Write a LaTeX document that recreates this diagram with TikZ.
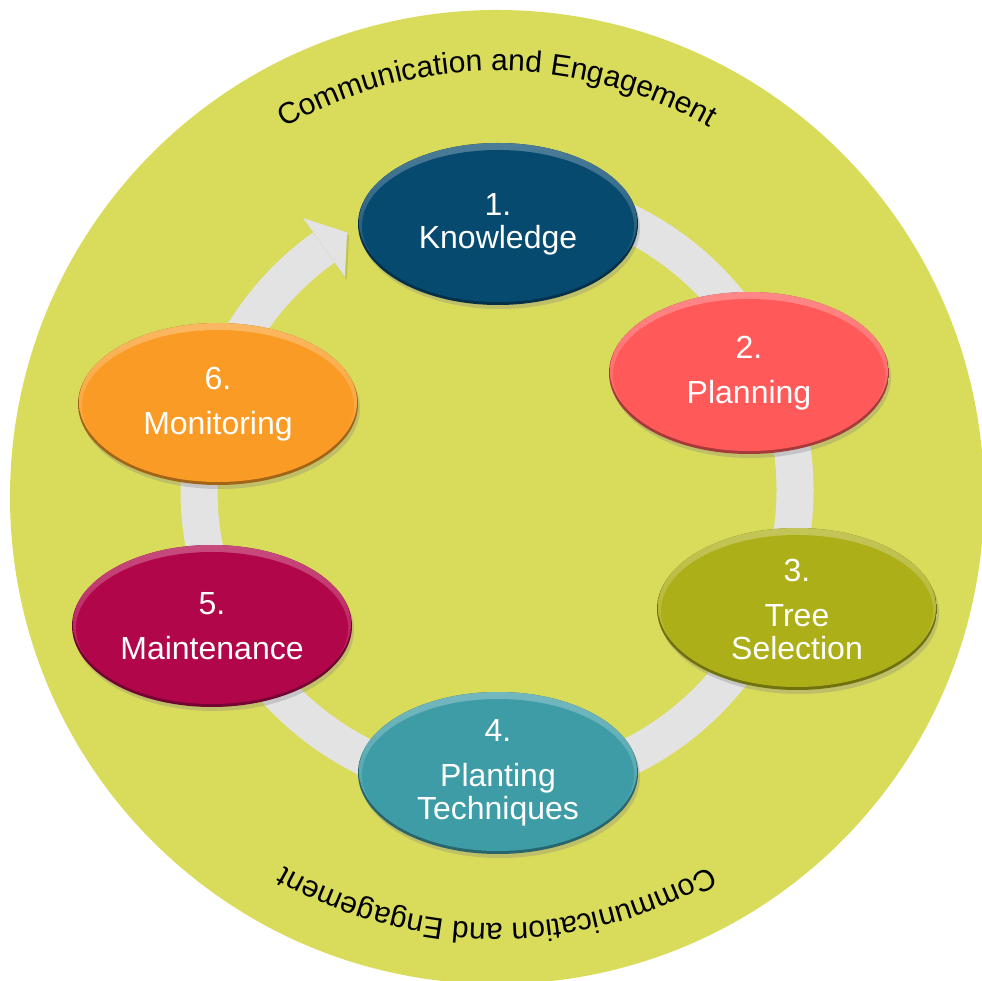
\documentclass[tikz,border=0pt]{standalone}
\usepackage{fontspec}
\setmainfont{Liberation Sans}
\usetikzlibrary{shapes.geometric,shadows,decorations.text}
\definecolor{bggreen}{RGB}{217,219,91}
\definecolor{ringgray}{RGB}{227,227,227}
\definecolor{cknow}{RGB}{7,74,112}
\definecolor{cplan}{RGB}{255,89,89}
\definecolor{ctree}{RGB}{172,175,24}
\definecolor{cplant}{RGB}{62,156,166}
\definecolor{cmaint}{RGB}{178,6,75}
\definecolor{cmonit}{RGB}{249,155,37}
\tikzset{
  stage/.style={ellipse, minimum width=280pt, minimum height=162pt, inner sep=0pt,
    text=white, align=center, font=\fontsize{32}{33}\selectfont,
    drop shadow={shadow xshift=2pt, shadow yshift=-4pt, opacity=0.3},
    path picture={
      \fill[#1!65!black] (path picture bounding box.south west) rectangle (path picture bounding box.north east);
      \shade[top color=#1!72!white, bottom color=#1] ([yshift=2pt]path picture bounding box.center) ellipse [x radius=139pt, y radius=79pt];
      \fill[#1] ([yshift=-2pt]path picture bounding box.center) ellipse [x radius=136pt, y radius=76pt];
    }},
  curvetext/.style={decorate, decoration={text along path, text align=center,
    text={|\fontsize{30}{30}\selectfont|Communication and Engagement}}},
}
\begin{document}
\begin{tikzpicture}[x=1pt,y=1pt]
\useasboundingbox (0,0) rectangle (982,980);
\clip (0,0) rectangle (982,980);
% background disc
\coordinate (bgc) at (497,483);
\fill[bggreen] (bgc) circle [radius=487];
% curved texts
\path[curvetext] (bgc) ++(160:426) arc [start angle=160, end angle=20, radius=426];
\path[curvetext] (bgc) ++(-20:426) arc [start angle=-20, end angle=-160, radius=426];
% ring with arrow
\coordinate (ringc) at (497,490);
\draw[ringgray, line width=37] (ringc) ++(90:298) arc [start angle=90, end angle=-234.5, radius=298];
\begin{scope}[shift={(ringc)}]
  \fill[black, opacity=0.1] ([shift={(2,-3)}]125.5:334) -- ([shift={(2,-3)}]120.2:298) -- ([shift={(2,-3)}]125.5:262) -- cycle;
  \fill[ringgray] (125.5:334) -- (120.2:298) -- (125.5:262) -- cycle;
\end{scope}
% stages
\node[stage=cknow]  (n1) at (498,756) {1.\\Knowledge};
\node[stage=cplan]  (n2) at (749,607) {2.\\[12pt]Planning};
\node[stage=ctree]  (n3) at (797,371) {3.\\[12pt]Tree\\Selection};
\node[stage=cplant] (n4) at (498,207) {4.\\[12pt]Planting\\Techniques};
\node[stage=cmaint] (n5) at (212,354) {5.\\[12pt]Maintenance};
\node[stage=cmonit] (n6) at (218,576) {6.\\[12pt]Monitoring};
\end{tikzpicture}
\end{document}
